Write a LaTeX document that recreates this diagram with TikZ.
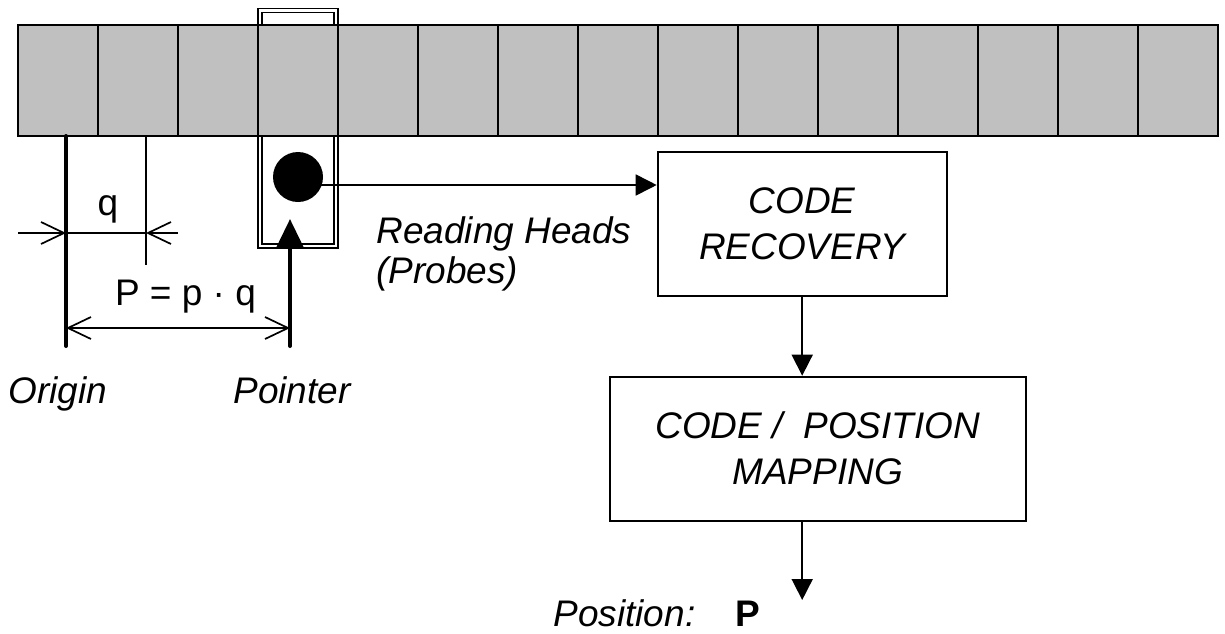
\documentclass[tikz,border=0pt]{standalone}
\usepackage{fontspec}
\setmainfont{Liberation Sans}
\usetikzlibrary{arrows.meta, calc}
\definecolor{TapeGray}{RGB}{192,192,192}

\begin{document}
\begin{tikzpicture}[x=0.5pt, y=-0.5pt, font=\fontsize{18.5}{20}\selectfont]%[scale=.8]
    \tikzset{CellStyle/.style = {draw, fill=TapeGray, line width=1pt, minimum width=40pt, minimum height=55.75pt, inner sep=0pt, outer sep=0pt}}
    \tikzset{HeadStyle/.style = {draw, double, line width=0.75pt, double distance=1.25pt, minimum width=38pt, minimum height=117.75pt, inner sep=0pt}}
    \tikzset{BoxStyle/.style = {draw, line width=1pt, align=center, inner sep=0pt, font=\fontsize{18.5}{23}\selectfont\itshape}}
    \tikzset{FlowStyle/.style = {line width=0.85pt, -{Triangle[length=10.5pt, width=10.5pt]}}}
    \tikzset{BarStyle/.style = {line width=2pt, line cap=round}}
    \tikzset{DimStyle/.style = {line width=0.85pt, -{Straight Barb[length=11.5pt, width=11pt]}}}
    \tikzset{DimBothStyle/.style = {line width=0.85pt, {Straight Barb[length=11.5pt, width=11pt]}-{Straight Barb[length=11.5pt, width=11pt]}}}
    \useasboundingbox (0,0) rectangle (1225,633);
    \node[HeadStyle] (head) at (298, 128.25) {};
    \foreach \i in {0,...,14}
        \node[CellStyle] (c\i) at (58+80*\i, 80.25) {};
    \node[circle, fill, minimum size=25pt, inner sep=0pt] (dot) at (298, 177) {};
    \node[BoxStyle, minimum width=144.5pt, minimum height=71.85pt] (rec) at (802.2, 224.2) {CODE\\RECOVERY};
    \node[BoxStyle, minimum width=208.25pt, minimum height=71.9pt] (map) at (817.8, 448.6) {CODE /\ \ POSITION\\MAPPING};
    \draw[FlowStyle] ([yshift=-4pt]dot.center) -- ([yshift=-4pt]dot.center -| rec.west);
    \draw[FlowStyle] (rec.south) -- (rec.south |- map.north);
    \coordinate (pos) at (802.2, 600);
    \draw[FlowStyle] (rec.south |- map.south) -- (pos);
    \node[anchor=north west, align=left, inner sep=0pt, font=\fontsize{18.5}{20}\selectfont\itshape] (rh) at (376, 216) {Reading Heads\\(Probes)};
    % origin, pointer and the two dimensions
    \coordinate (orgtop) at (66, 136);
    \coordinate (orgbot) at (66, 346);
    \coordinate (ptrbot) at (290, 346);
    \coordinate (ptrtip) at (290, 219);
    \coordinate (qtop) at (146, 136);
    \coordinate (qbot) at (146, 265);
    \draw[BarStyle] (orgtop) -- (orgbot);
    \draw[BarStyle, -{Triangle[length=14.5pt, width=13.5pt]}] (ptrbot) -- (ptrtip);
    \draw[line width=0.85pt] (qtop) -- (qbot);
    \coordinate (qa) at (18, 233);
    \coordinate (qb) at (178, 233);
    \draw[DimStyle] (qa) -- (qa -| orgtop);
    \draw[line width=0.85pt] (qa -| orgtop) -- (qa -| qtop);
    \draw[DimStyle] (qb) -- (qb -| qtop);
    \coordinate (pa) at (66, 328);
    \draw[DimBothStyle] (pa) -- (pa -| ptrbot);
    \node[anchor=base, inner sep=0pt] (qlab) at (108, 215) {q};
    \node[anchor=base, inner sep=0pt] (plab) at (185.5, 305) {P = p · q};
    \node[anchor=base west, inner sep=0pt, font=\fontsize{18.5}{20}\selectfont\itshape] (orglab) at (8, 403) {Origin};
    \node[anchor=base west, inner sep=0pt, font=\fontsize{18.5}{20}\selectfont\itshape] (ptrlab) at (233, 403) {Pointer};
    \node[anchor=base west, inner sep=0pt, font=\fontsize{18.5}{20}\selectfont\itshape] (poslab) at (553, 626) {Position:};
    \node[anchor=base west, inner sep=0pt, font=\fontsize{18.5}{20}\selectfont\bfseries] (posval) at (735, 626) {P};
\end{tikzpicture}
\end{document}
